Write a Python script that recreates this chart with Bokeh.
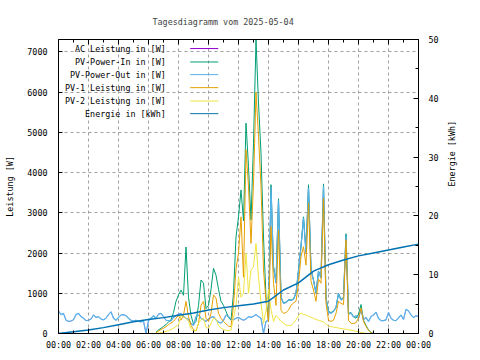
import math
from bokeh.plotting import figure
from bokeh.models import Range1d, LinearAxis, FixedTicker
from bokeh.embed import file_html
from bokeh.resources import INLINE
from bokeh.core.properties import value

# ---------------- texts ----------------
TITLE = "Tagesdiagramm vom 2025-05-04"
Y_LABEL = "Leistung [W]"
Y2_LABEL = "Energie [kWh]"
X_TICKS = [0, 2, 4, 6, 8, 10, 12, 14, 16, 18, 20, 22, 24]
X_MINOR = [1, 3, 5, 7, 9, 11, 13, 15, 17, 19, 21, 23]
X_TICK_LABELS = ["00:00", "02:00", "04:00", "06:00", "08:00", "10:00", "12:00",
                 "14:00", "16:00", "18:00", "20:00", "22:00", "00:00"]
Y_TICKS = [0, 1000, 2000, 3000, 4000, 5000, 6000, 7000]
Y2_TICKS = [0, 10, 20, 30, 40, 50]
Y2_MINOR = [5, 15, 25, 35, 45]
NAMES = ["AC Leistung in [W]", "PV-Power-In in [W]", "PV-Power-Out in [W]",
         "PV-1 Leistung in [W]", "PV-2 Leistung in [W]", "Energie in [kWh]"]
COLORS = ["#9400d3", "#009e73", "#56b4e9", "#e69f00", "#f0e442", "#0072b2"]

# ---------------- data ----------------
# daytime series: 10-minute samples starting 06:30
DAY_START_H = 6.5
STEP_H = 1.0 / 6.0

pv_in = [30, 90, 130, 175, 220, 290, 340, 520, 800,            # 06:30-07:50
         960, 1080, 950, 2150, 900, 450,                         # 08:00-08:50
         230, 300, 700, 1330, 1250, 620,                         # 09:00-09:50
         700, 1100, 1620, 1450, 1100, 800,                       # 10:00-10:50
         700, 550, 400, 330, 1000, 2400,                         # 11:00-11:50
         2900, 3570, 2800, 5230, 4150, 2820,                     # 12:00-12:50
         4730, 7300, 5730, 4485, 2400, 900,                      # 13:00-13:50
         300, 3700, 1660, 1300, 3350, 900,                       # 14:00-14:50
         760, 780, 840, 830, 860, 1000,                          # 15:00-15:50
         1580, 2180, 2900, 2050, 3700, 1600,                     # 16:00-16:50
         1330, 1000, 1550, 1400, 3720, 900,                      # 17:00-17:50
         550, 520, 560, 650, 1000, 850,                          # 18:00-18:50
         900, 2480, 500, 520, 420, 380,                          # 19:00-19:50
         480, 720, 330, 200, 90, 20, 0]                          # 20:00-21:00

pv1 = [20, 60, 100, 130, 170, 220, 260, 300, 380,
       450, 330, 460, 800, 420, 200,
       100, 60, 250, 700, 800, 380,
       300, 500, 960, 880, 500, 380,
       300, 240, 180, 170, 700, 1600,
       2000, 2900, 1400, 4570, 3650, 2240,
       3740, 6000, 4900, 3650, 1580, 800,
       300, 2660, 1245, 700, 2575, 580,
       500, 520, 580, 700, 760, 800,
       1250, 1910, 2160, 1700, 3240, 1300,
       1080, 800, 1350, 1250, 3360, 750,
       330, 300, 330, 500, 800, 750,
       720, 2330, 330, 250, 250, 270,
       380, 630, 300, 180, 80, 15, 0]

pv2 = [0, 10, 20, 30, 50, 70, 100, 130, 180,
       220, 450, 400, 380, 300, 120,
       50, 80, 250, 350, 380, 150,
       130, 250, 380, 360, 200, 130,
       100, 80, 70, 90, 380, 700,
       1400, 900, 1000, 2000, 1000, 1580,
       1660, 2240, 1400, 750, 250, 580,
       1100, 600, 300, 450, 380, 300,
       257, 210, 200, 200, 257, 340,
       450, 510, 470, 460, 430, 400,
       380, 345, 330, 310, 290, 230,
       190, 170, 160, 150, 135, 125,
       115, 105, 90, 83, 70, 55,
       45, 25, 15, 5, 0, 0, 0]

# full-day series: 10-minute samples starting 00:00
# AC output (drawn first; it lies under the PV-Power-Out trace)
ac_power = [560, 470, 500, 330, 300, 310,
            340, 470, 500, 420, 380, 320,
            330, 360, 460, 400, 420, 360,
            340, 380, 470, 540, 380, 330,
            400, 460, 470, 440, 380, 330,
            310, 330, 300, 290, 310, 0,
            320, 380, 440, 380, 480, 500,
            420, 330, 320, 310, 400, 440,
            480, 500, 420, 380, 350, 250,
            200, 420, 460, 380, 340, 300,
            360, 400, 420, 340, 280, 260,
            330, 460, 420, 360, 340, 380,
            400, 360, 330, 360, 420, 400,
            430, 470, 420, 380, 0, 300,
            330, 3650, 1650, 1250, 3300, 900,
            750, 770, 830, 820, 850, 1000,
            1570, 2160, 2870, 2000, 3620, 1580,
            1320, 990, 1540, 1380, 3660, 880,
            530, 500, 550, 640, 990, 830,
            880, 2450, 480, 510, 410, 440,
            380, 600, 340, 400, 300, 420,
            460, 530, 380, 320, 320, 340,
            520, 380, 330, 320, 390, 460,
            350, 600, 560, 460, 400, 440,
            420]

pv_out = [560, 470, 500, 330, 300, 310,            # 00:00-00:50
          340, 470, 500, 420, 380, 320,            # 01
          330, 360, 460, 400, 420, 360,            # 02
          340, 380, 470, 540, 380, 330,            # 03
          400, 460, 470, 440, 380, 330,            # 04
          310, 330, 300, 290, 310, 0,              # 05
          320, 380, 440, 380, 480, 500,            # 06
          420, 330, 320, 310, 400, 440,            # 07
          480, 500, 420, 380, 350, 250,            # 08
          200, 420, 460, 380, 340, 300,            # 09
          360, 400, 420, 340, 280, 260,            # 10
          330, 460, 420, 360, 340, 380,            # 11
          400, 360, 330, 360, 420, 400,            # 12
          430, 470, 420, 380, 0, 300,              # 13
          330, 3650, 1650, 1250, 3300, 900,        # 14
          750, 770, 830, 820, 850, 1000,           # 15
          1570, 2160, 2870, 2000, 3620, 1580,      # 16
          1320, 990, 1540, 1380, 3660, 880,        # 17
          530, 500, 550, 640, 990, 830,            # 18
          880, 2450, 480, 510, 410, 440,           # 19
          380, 600, 340, 400, 300, 420,            # 20
          460, 530, 380, 320, 320, 340,            # 21
          520, 380, 330, 320, 390, 460,            # 22
          350, 600, 560, 460, 400, 440,            # 23
          420]                                     # 24:00

# energy (kWh), hourly
energy_hours = list(range(25))
energy_kwh = [0.0, 0.3, 0.6, 1.0, 1.5, 2.0, 2.4, 2.7, 3.1, 3.5, 4.0, 4.4, 4.7,
              5.0, 5.5, 7.4, 8.6, 10.6, 11.7, 12.5, 13.2, 13.7, 14.2, 14.7, 15.2]

Y_MAX = 7310
Y2_MAX = 50

# ---------------- layout / style ----------------
FONT = "DejaVu Sans Mono"
FS = "8.4px"
GRID_COLOR = "#a0a0a0"
LEG_TEXT_X = 7.15
LEG_LINE_X = (8.78, 10.65)
LEG_ROWS_Y = [7085, 6751, 6437, 6113, 5780, 5466]
TOP_TICK_MAJOR = 120   # inward tick length on the top border, in W
TOP_TICK_MINOR = 75

day_t = [DAY_START_H + k * STEP_H for k in range(len(pv_in))]
full_t = [k * STEP_H for k in range(len(pv_out))]

p = figure(width=480, height=360, output_backend="svg",
           toolbar_location=None, x_range=Range1d(0, 24), y_range=Range1d(0, Y_MAX),
           min_border_left=58, min_border_right=62, min_border_top=39, min_border_bottom=27,
           background_fill_color="white", border_fill_color="white")
p.extra_y_ranges = {"energy": Range1d(0, Y2_MAX)}
p.outline_line_color = "black"
p.outline_line_width = 1
p.outline_line_alpha = 1

# title
p.title.text = TITLE
p.title.text_font = FONT
p.title.text_font_size = FS
p.title.text_font_style = "normal"
p.title.align = "left"
p.title.offset = 94
p.title.standoff = 25

# axes
def style_axis(ax):
    ax.axis_line_color = "black"
    ax.major_tick_line_color = "black"
    ax.minor_tick_line_color = "black"
    ax.major_label_text_font = FONT
    ax.major_label_text_font_size = FS
    ax.major_label_text_color = "black"
    ax.axis_label_text_font = FONT
    ax.axis_label_text_font_size = FS
    ax.axis_label_text_font_style = "normal"
    ax.axis_label_text_color = "black"
    ax.major_tick_out = 0
    ax.minor_tick_out = 0

xa = p.xaxis[0]
style_axis(xa)
xa.ticker = FixedTicker(ticks=X_TICKS, minor_ticks=X_MINOR)
xa.major_label_overrides = {t: l for t, l in zip(X_TICKS, X_TICK_LABELS)}
xa.major_tick_in = 5
xa.minor_tick_in = 3
xa.major_label_standoff = 6

ya = p.yaxis[0]
style_axis(ya)
ya.ticker = FixedTicker(ticks=Y_TICKS)
ya.major_tick_in = 4
ya.minor_tick_in = 0
ya.major_label_standoff = 11
ya.axis_label = Y_LABEL
ya.axis_label_standoff = 9

y2 = LinearAxis(y_range_name="energy", ticker=FixedTicker(ticks=Y2_TICKS, minor_ticks=Y2_MINOR))
style_axis(y2)
y2.major_tick_in = 5
y2.minor_tick_in = 3
y2.major_label_standoff = 10
y2.axis_label = Y2_LABEL
y2.axis_label_standoff = 10
if "axis_label_orientation" in y2.properties():
    y2.axis_label_orientation = math.pi / 2
    y2.axis_label_text_align = "center"
p.add_layout(y2, "right")

# grid
p.xgrid.ticker = FixedTicker(ticks=X_TICKS[1:-1])
p.ygrid.ticker = FixedTicker(ticks=Y_TICKS[1:])
for g in (p.xgrid, p.ygrid):
    g.grid_line_color = GRID_COLOR
    g.grid_line_dash = "3 3"
    g.grid_line_width = 1

# mirrored tick marks on the top border
p.segment(x0=X_TICKS, x1=X_TICKS, y0=[Y_MAX] * len(X_TICKS),
          y1=[Y_MAX - TOP_TICK_MAJOR] * len(X_TICKS), color="black", line_width=1)
p.segment(x0=X_MINOR, x1=X_MINOR, y0=[Y_MAX] * len(X_MINOR),
          y1=[Y_MAX - TOP_TICK_MINOR] * len(X_MINOR), color="black", line_width=1)

# data lines
p.line(full_t, ac_power, color=COLORS[0], line_width=0.5)
p.line(day_t, pv_in, color=COLORS[1], line_width=1)
p.line(full_t, pv_out, color=COLORS[2], line_width=1.2)
p.line(day_t, pv1, color=COLORS[3], line_width=1)
p.line(day_t, pv2, color=COLORS[4], line_width=1)
p.line(energy_hours, energy_kwh, color=COLORS[5], line_width=1.5, y_range_name="energy")

# legend (labels left, samples right, gnuplot style)
p.text(x=[LEG_TEXT_X] * len(NAMES), y=LEG_ROWS_Y, text=NAMES,
       text_align="right", text_baseline="middle",
       text_font=value(FONT), text_font_size=value(FS), text_color="black")
p.segment(x0=[LEG_LINE_X[0]] * len(NAMES), x1=[LEG_LINE_X[1]] * len(NAMES),
          y0=LEG_ROWS_Y, y1=LEG_ROWS_Y, color=COLORS, line_width=1)

open("out.html", "w").write(file_html(p, INLINE))
